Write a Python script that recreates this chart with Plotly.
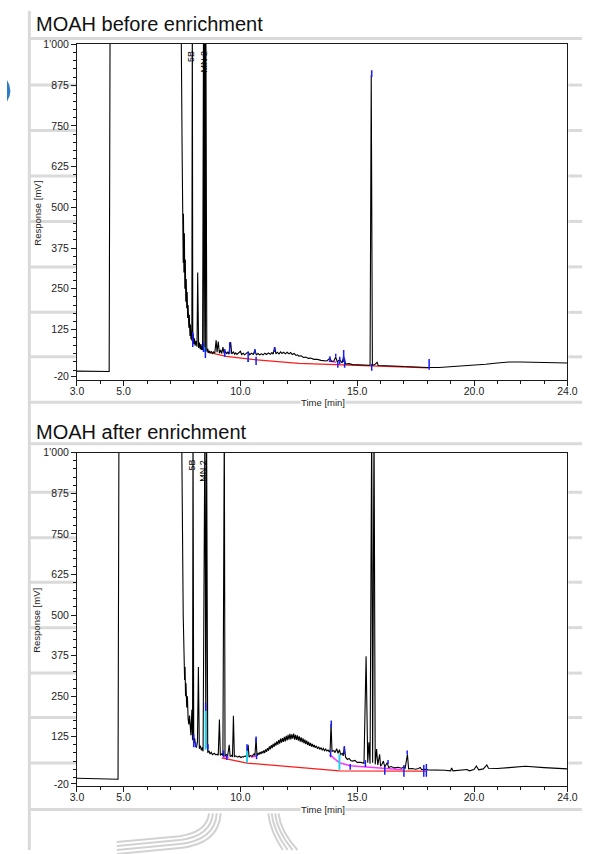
import plotly.graph_objects as go

W, H = 592, 854
FONT = "Liberation Sans, Arial, sans-serif"

# ---------------- data ----------------
X_TICKS = [3, 5, 10, 15, 20, 24]
X_TICK_TEXT = ["3.0", "5.0", "10.0", "15.0", "20.0", "24.0"]
X_MINOR = list(range(3, 25))
Y_TICKS = [-20, 125, 250, 375, 500, 625, 750, 875, 1000]
Y_TICK_TEXT = ["-20", "125", "250", "375", "500", "625", "750", "875", "1\u2019000"]
Y_MINOR = list(range(0, 1001, 25))

# MOAH before enrichment: (time [min], response [mV])
BEFORE = [
    (3.00, -3), (4.00, -3), (4.38, -4), (4.42, 1100), (7.46, 1100), (7.50, 700),
    (7.52, 450), (7.53, 600), (7.55, 330), (7.56, 480), (7.58, 300), (7.60, 420),
    (7.62, 250), (7.64, 340), (7.66, 210), (7.68, 280), (7.70, 190), (7.72, 240),
    (7.74, 160), (7.76, 200), (7.79, 130), (7.81, 170), (7.84, 105), (7.86, 140),
    (7.88, 95), (7.90, 120), (7.92, 90), (7.94, 1100), (7.96, 88), (7.98, 110),
    (8.00, 80), (8.03, 98), (8.06, 75), (8.10, 90), (8.14, 72), (8.17, 300),
    (8.21, 68), (8.24, 85), (8.28, 64), (8.31, 80), (8.33, 62), (8.36, 75),
    (8.38, 61), (8.42, 1100), (8.44, 70), (8.47, 1100), (8.50, 65), (8.52, 1100),
    (8.56, 57), (8.60, 66), (8.62, 53), (8.66, 60), (8.70, 52), (8.75, 58),
    (8.80, 51), (8.85, 56), (8.90, 51), (8.96, 92), (9.00, 55), (9.05, 88),
    (9.10, 52), (9.15, 62), (9.20, 51), (9.25, 71), (9.30, 51), (9.35, 58),
    (9.40, 50), (9.45, 56), (9.50, 49), (9.58, 86), (9.63, 50), (9.70, 56),
    (9.75, 49), (9.80, 53), (9.85, 48), (9.92, 52), (10.00, 58), (10.05, 48),
    (10.12, 52), (10.18, 47), (10.25, 51), (10.33, 56), (10.40, 47), (10.47, 52),
    (10.55, 48), (10.62, 62), (10.68, 47), (10.75, 51), (10.82, 47), (10.90, 50),
    (10.97, 47), (11.05, 52), (11.12, 48), (11.20, 53), (11.28, 49), (11.35, 54),
    (11.40, 49), (11.47, 71), (11.52, 50), (11.58, 55), (11.65, 50), (11.72, 56),
    (11.78, 51), (11.85, 55), (11.92, 50), (12.00, 55), (12.08, 50), (12.15, 54),
    (12.22, 48), (12.30, 51), (12.38, 45), (12.45, 47), (12.50, 43), (12.60, 44),
    (12.70, 39), (12.80, 40), (12.90, 36), (13.00, 37), (13.15, 33), (13.30, 33),
    (13.45, 30), (13.60, 29), (13.70, 28), (13.83, 37), (13.90, 27), (14.00, 28),
    (14.08, 40), (14.15, 25), (14.25, 32), (14.35, 22), (14.42, 42), (14.50, 19),
    (14.65, 20), (14.80, 17), (15.00, 17), (15.20, 16), (15.40, 16), (15.55, 15),
    (15.60, 906), (15.65, 15), (15.75, 17), (15.85, 24), (15.90, 14), (16.20, 14),
    (16.50, 13), (16.80, 12), (17.00, 11), (17.50, 9), (18.00, 8), (18.50, 8),
    (19.00, 10), (19.50, 12), (20.00, 15), (20.50, 18), (21.00, 22), (21.50, 25),
    (22.00, 25), (22.50, 24), (23.00, 23), (24.00, 22),
]
BEFORE_BASELINE = [(8.6, 55), (9.4, 42), (10.5, 33), (12.5, 21), (15.6, 13), (18.05, 7)]
BEFORE_MAGENTA = [[(13.78, 28), (14.10, 24)]]
BEFORE_BLUE_T = [7.96, 8.42, 8.50, 9.33, 9.54, 10.33, 10.62, 10.67, 11.46, 13.83, 14.08,
                 14.17, 14.25, 14.42, 14.46, 15.62, 15.62, 18.08]
BEFORE_BLUE_LO = [71, 56, 37, 41, 50, 25, 50, 16, 56, 25, 41, 7, 19, 25, 7, -2, 900, 1]
BEFORE_BLUE_HI = [117, 86, 65, 65, 86, 56, 65, 41, 71, 43, 50, 25, 41, 62, 34, 19, 921, 34]
BEFORE_CYAN_T = [8.45, 10.33]
BEFORE_CYAN_LO = [56, 25]
BEFORE_CYAN_HI = [71, 34]

# MOAH after enrichment
AFTER = [
    (3.00, -3), (4.00, -4), (4.70, -6), (4.76, -6), (4.80, 1100), (7.48, 1100),
    (7.55, 500), (7.57, 380), (7.59, 450), (7.61, 300), (7.63, 340), (7.65, 250),
    (7.67, 290), (7.70, 215), (7.73, 250), (7.76, 180), (7.79, 163), (7.82, 190),
    (7.85, 150), (7.88, 130), (7.92, 208), (7.95, 114), (7.97, 1100), (8.00, 105),
    (8.04, 120), (8.08, 95), (8.12, 93), (8.16, 110), (8.20, 340), (8.24, 88),
    (8.28, 98), (8.33, 83), (8.37, 92), (8.40, 80), (8.48, 1100), (8.52, 90),
    (8.55, 1100), (8.60, 76), (8.65, 82), (8.70, 72), (8.75, 77), (8.80, 70),
    (8.88, 74), (8.95, 69), (9.00, 71), (9.05, 68), (9.10, 178), (9.14, 68),
    (9.20, 72), (9.25, 67), (9.31, 1100), (9.34, 66), (9.40, 70), (9.45, 65),
    (9.52, 100), (9.56, 64), (9.62, 68), (9.66, 63), (9.70, 190), (9.74, 63),
    (9.80, 66), (9.88, 62), (9.95, 65), (10.02, 61), (10.08, 64), (10.12, 62),
    (10.20, 66), (10.26, 62), (10.33, 100), (10.37, 62), (10.43, 67), (10.50, 65),
    (10.58, 72), (10.62, 67), (10.67, 120), (10.71, 66), (10.76, 74), (10.80, 70),
    (10.84, 78), (10.88, 72), (10.92, 80), (10.96, 74), (11.00, 83), (11.04, 75),
    (11.08, 86), (11.12, 79), (11.16, 90), (11.20, 82), (11.24, 95), (11.28, 86),
    (11.32, 99), (11.36, 90), (11.40, 103), (11.44, 94), (11.48, 107), (11.52, 98),
    (11.56, 111), (11.60, 101), (11.64, 115), (11.68, 104), (11.72, 119), (11.76, 107),
    (11.80, 121), (11.84, 109), (11.88, 125), (11.92, 111), (11.96, 128), (12.00, 114),
    (12.04, 131), (12.08, 116), (12.12, 134), (12.16, 117), (12.20, 132), (12.24, 119),
    (12.28, 135), (12.32, 116), (12.36, 131), (12.40, 115), (12.44, 129), (12.48, 113),
    (12.52, 126), (12.56, 110), (12.60, 123), (12.64, 108), (12.68, 120), (12.72, 105),
    (12.76, 116), (12.80, 102), (12.84, 113), (12.88, 99), (12.92, 109), (12.96, 97),
    (13.00, 106), (13.04, 95), (13.08, 103), (13.12, 93), (13.16, 100), (13.20, 91),
    (13.25, 97), (13.30, 88), (13.35, 94), (13.40, 86), (13.45, 91), (13.50, 84),
    (13.55, 89), (13.60, 82), (13.65, 87), (13.70, 81), (13.75, 84), (13.80, 79),
    (13.84, 84), (13.88, 165), (13.92, 80), (14.00, 82), (14.05, 76), (14.12, 88),
    (14.18, 74), (14.24, 85), (14.29, 70), (14.36, 74), (14.40, 66), (14.45, 95),
    (14.50, 62), (14.58, 55), (14.65, 58), (14.72, 52), (14.80, 50), (14.90, 52),
    (15.00, 46), (15.15, 46), (15.29, 43), (15.38, 373), (15.45, 45), (15.50, 108),
    (15.55, 42), (15.62, 1100), (15.66, 45), (15.72, 1100), (15.77, 40), (15.83, 87),
    (15.88, 38), (15.96, 71), (16.00, 34), (16.06, 40), (16.12, 50), (16.18, 32),
    (16.28, 45), (16.35, 30), (16.45, 33), (16.60, 29), (16.75, 31), (16.90, 28),
    (17.00, 32), (17.05, 27), (17.15, 71), (17.20, 26), (17.35, 27), (17.50, 25),
    (17.62, 27), (17.70, 30), (17.75, 24), (17.90, 25), (18.04, 23), (18.25, 23),
    (18.50, 21), (18.75, 22), (19.00, 20), (19.04, 29), (19.10, 20), (19.30, 21),
    (19.50, 21), (19.70, 24), (19.80, 20), (20.00, 24), (20.10, 35), (20.20, 23),
    (20.40, 26), (20.55, 38), (20.62, 28), (20.80, 28), (21.00, 27), (21.50, 30),
    (22.20, 34), (23.00, 30), (24.00, 26),
]
AFTER_BASELINE = [(9.2, 60), (10.28, 44), (14.24, 20), (17.95, 19)]
AFTER_MAGENTA = [[(9.25, 64), (9.50, 62)], [(10.45, 62), (10.70, 66)],
                 [(13.82, 70), (14.24, 45), (14.70, 36), (15.30, 33), (16.20, 28), (16.95, 23)]]
AFTER_BLUE_T = [8.00, 8.08, 8.51, 8.61, 9.28, 9.42, 10.28, 10.67, 10.69, 13.89, 13.86,
                14.45, 14.70, 15.35, 16.18, 16.32, 17.00, 17.14, 17.85, 17.96]
AFTER_BLUE_LO = [93, 93, 205, 86, 62, 53, 83, 108, 56, 153, 62, 71, 23, 32, 8, 41, 2, 71, 2, 2]
AFTER_BLUE_HI = [132, 108, 230, 102, 83, 68, 102, 126, 71, 175, 83, 96, 41, 53, 32, 53, 38, 83, 38, 41]
AFTER_CYAN_T = [8.51, 10.28, 14.24]
AFTER_CYAN_LO = [86, 44, 23]
AFTER_CYAN_HI = [205, 83, 71]

PEAK_LABELS_BEFORE = [("5B", 7.875), ("MN 2", 8.44)]
PEAK_LABELS_AFTER = [("5B", 7.94), ("MN 2", 8.40)]

TITLES = ["MOAH before enrichment", "MOAH after enrichment"]


# ---------------- helpers ----------------
def px(x):
    return x / W


def py(y):
    return 1 - y / H


def ticks_xy(ts, lo, hi):
    xs, ys = [], []
    for t, a, b in zip(ts, lo, hi):
        xs += [t, t, None]
        ys += [a, b, None]
    return xs, ys


def segs_xy(segs):
    xs, ys = [], []
    for s in segs:
        for t, v in s:
            xs.append(t)
            ys.append(v)
        xs.append(None)
        ys.append(None)
    return xs, ys


fig = go.Figure()

panels = [
    dict(sig=BEFORE, base=BEFORE_BASELINE, mag=BEFORE_MAGENTA,
         blue=(BEFORE_BLUE_T, BEFORE_BLUE_LO, BEFORE_BLUE_HI),
         cyan=(BEFORE_CYAN_T, BEFORE_CYAN_LO, BEFORE_CYAN_HI), xa="x", ya="y"),
    dict(sig=AFTER, base=AFTER_BASELINE, mag=AFTER_MAGENTA,
         blue=(AFTER_BLUE_T, AFTER_BLUE_LO, AFTER_BLUE_HI),
         cyan=(AFTER_CYAN_T, AFTER_CYAN_LO, AFTER_CYAN_HI), xa="x2", ya="y2"),
]

for p in panels:
    common = dict(xaxis=p["xa"], yaxis=p["ya"], mode="lines", hoverinfo="skip", showlegend=False)
    bx, by = zip(*p["base"])
    fig.add_trace(go.Scatter(x=list(bx), y=list(by), line=dict(color="#ff1a1a", width=1.2), **common))
    mx, my = segs_xy(p["mag"])
    fig.add_trace(go.Scatter(x=mx, y=my, line=dict(color="#ff33ff", width=1.5), **common))
    sx, sy = zip(*p["sig"])
    fig.add_trace(go.Scatter(x=list(sx), y=list(sy), line=dict(color="#000000", width=1.1), **common))
    cx, cy = ticks_xy(*p["cyan"])
    fig.add_trace(go.Scatter(x=cx, y=cy, line=dict(color="#22d3ee", width=2), **common))
    tx, ty = ticks_xy(*p["blue"])
    fig.add_trace(go.Scatter(x=tx, y=ty, line=dict(color="#1a1aff", width=1.5), **common))

AX_COL = "#1a1a1a"
tickfont = dict(family=FONT, size=10.5, color="#222222")


def xcfg(anchor):
    return dict(domain=[px(72), px(577)], anchor=anchor, range=[3, 24], showline=True,
                mirror=True, linecolor=AX_COL, linewidth=1, ticks="outside", ticklen=5,
                tickcolor=AX_COL, tickvals=X_TICKS, ticktext=X_TICK_TEXT, tickfont=tickfont,
                ticklabelstandoff=-3,
                showgrid=False, zeroline=False, fixedrange=True,
                minor=dict(ticks="outside", ticklen=3, tickcolor=AX_COL, tickmode="array",
                           tickvals=X_MINOR))


def ycfg(anchor, top, bottom, rng):
    return dict(domain=[py(bottom), py(top)], anchor=anchor, range=rng, showline=True,
                mirror=True, linecolor=AX_COL, linewidth=1, ticks="outside", ticklen=5,
                tickcolor=AX_COL, tickvals=Y_TICKS, ticktext=Y_TICK_TEXT, tickfont=tickfont,
                showgrid=False, zeroline=False, fixedrange=True,
                minor=dict(ticks="outside", ticklen=3, tickcolor=AX_COL, tickmode="array",
                           tickvals=Y_MINOR))


fig.update_layout(
    width=W, height=H, margin=dict(l=0, r=0, t=0, b=0),
    paper_bgcolor="white", plot_bgcolor="white", showlegend=False,
    xaxis=xcfg("y"), yaxis=ycfg("x", 38, 378, [-29, 1003]),
    xaxis2=xcfg("y2"), yaxis2=ycfg("x2", 452, 789, [-26, 1000]),
)

# ---------------- page decoration (gray table lines) ----------------
GRAY = "#dadada"
shapes = []


def hline(x0, x1, y, w=3):
    shapes.append(dict(type="line", xref="paper", yref="paper", x0=px(x0), x1=px(x1),
                       y0=py(y), y1=py(y), line=dict(color=GRAY, width=w), layer="below"))


shapes.append(dict(type="line", xref="paper", yref="paper", x0=px(23), x1=px(23),
                   y0=py(5), y1=py(854), line=dict(color=GRAY, width=3), layer="below"))
for y in [33, 401, 443, 813]:
    hline(23, 592, y)
for y in [80, 126, 172, 218, 264, 310, 355, 492, 538, 583, 629, 675, 720, 766]:
    hline(23, 71, y)
    hline(578, 592, y)

# thin blue sliver at the left edge
shapes.append(dict(type="path", xref="paper", yref="paper",
                   path=f"M {px(0)},{py(75)} Q {px(7)},{py(86)} {px(0)},{py(97)} Z",
                   fillcolor="#2f7cc4", line=dict(width=0)))

# light gray logo curves at the bottom
LOGO = "#d2d2d2"
for k in range(4):
    y0 = 846 + 4 * k
    path = (f"M {px(113)},{py(y0)} L {px(178)},{py(y0 - 6)} "
            f"Q {px(206 + 4 * k)},{py(y0 - 10)} {px(208 + 4 * k)},{py(817)}")
    shapes.append(dict(type="path", xref="paper", yref="paper", path=path,
                       line=dict(color=LOGO, width=2)))
    path2 = (f"M {px(269 + 3.5 * k)},{py(817)} Q {px(271 + 3.5 * k)},{py(835)} "
             f"{px(284 + 5 * k)},{py(854)}")
    shapes.append(dict(type="path", xref="paper", yref="paper", path=path2,
                       line=dict(color=LOGO, width=2)))

fig.update_layout(shapes=shapes)

# ---------------- text ----------------
ann = []
for title, ycen in zip(TITLES, [18, 431]):
    ann.append(dict(text=title, xref="paper", yref="paper", x=px(28), y=py(ycen),
                    xanchor="left", yanchor="middle", showarrow=False,
                    font=dict(family=FONT, size=20, color="#111111")))
for ycen, xtitle_y in [(210, 401), (622, 813)]:
    ann.append(dict(text="Response [mV]", xref="paper", yref="paper", x=px(31), y=py(ycen),
                    textangle=-90, xanchor="center", yanchor="middle", showarrow=False,
                    font=dict(family=FONT, size=9.5, color="#222222")))
    ann.append(dict(text="Time [min]", xref="paper", yref="paper", x=px(325), y=py(xtitle_y),
                    xanchor="center", yanchor="middle", showarrow=False, bgcolor="white",
                    borderpad=0, font=dict(family=FONT, size=9.5, color="#222222")))
for labels, xr, yr in [(PEAK_LABELS_BEFORE, "x", "y domain"), (PEAK_LABELS_AFTER, "x2", "y2 domain")]:
    for lab, t in labels:
        ann.append(dict(text=lab, xref=xr, yref=yr, x=t, y=0.985, textangle=-90,
                        xanchor="center", yanchor="top", showarrow=False,
                        font=dict(family=FONT, size=9, color="#000000")))
fig.update_layout(annotations=ann)

fig.write_html("out.html")
